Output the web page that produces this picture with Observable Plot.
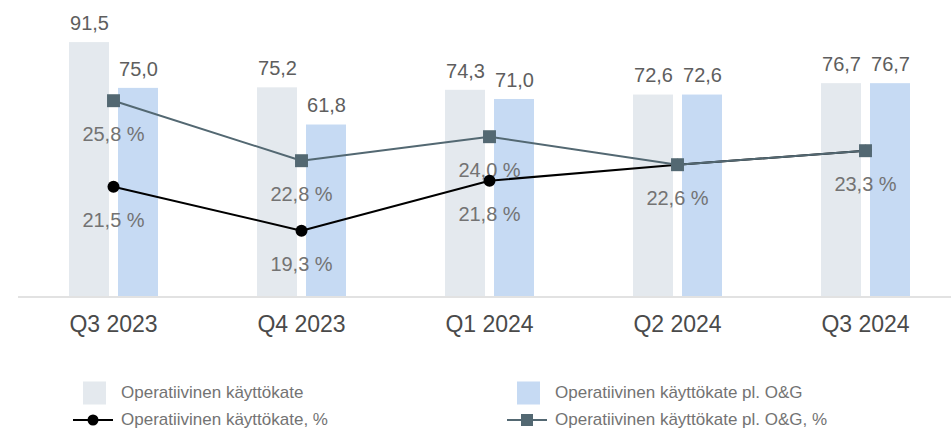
<!DOCTYPE html>
<html>
<head>
<meta charset="utf-8">
<script src="https://cdn.jsdelivr.net/npm/d3@7"></script>
<script src="https://cdn.jsdelivr.net/npm/@observablehq/plot@0.6"></script>
<style>
  body { margin: 0; background: #fff; font-family: "Liberation Sans", Arial, sans-serif; }
  #wrap { position: relative; width: 951px; height: 429px; }
  .leg { position: absolute; display: flex; align-items: center; font-size: 17px; color: #737373; white-space: nowrap; }
  .leg svg { display: block; }
</style>
</head>
<body>
<div id="wrap"><div id="chart"></div></div>
<script>
const quarters = ["Q3 2023", "Q4 2023", "Q1 2024", "Q2 2024", "Q3 2024"];
const ebitda = [91.5, 75.2, 74.3, 72.6, 76.7];
const ebitdaExOG = [75.0, 61.8, 71.0, 72.6, 76.7];
const marginPct = [21.5, 19.3, 21.8, 22.6, 23.3];
const marginPctExOG = [25.8, 22.8, 24.0, 22.6, 23.3];
const seriesNames = [
  "Operatiivinen käyttökate",
  "Operatiivinen käyttökate pl. O&G",
  "Operatiivinen käyttökate, %",
  "Operatiivinen käyttökate pl. O&G, %"
];

const rows = quarters.map((q, i) => ({
  q, a: ebitda[i], b: ebitdaExOG[i], p: marginPct[i], s: marginPctExOG[i]
}));

// secondary (percentage) axis mapped onto the bar axis
const yTop = 106.67;
const pctAxis = d3.scaleLinear().domain([16.01, 30.81]).range([0, yTop]);
const fmt = v => d3.format(".1f")(v).replace(".", ",");

const font = "'Liberation Sans', Arial, sans-serif";
const chart = Plot.plot({
  width: 951,
  height: 350,
  marginTop: 0,
  marginBottom: 54,
  marginLeft: 18,
  marginRight: 0,
  style: { fontFamily: font, fontSize: "23px", color: "#4a4a4a", background: "#fff" },
  x: { domain: quarters, range: [18.5, 958.5], padding: 0, label: null, tickSize: 0, tickPadding: 19 },
  y: { domain: [0, yTop], axis: null },
  marks: [
    Plot.barY(rows, { x: "q", y: "a", fill: "#e4e9ee", insetLeft: 50, insetRight: 98 }),
    Plot.barY(rows, { x: "q", y: "b", fill: "#c6daf3", insetLeft: 99, insetRight: 49 }),
    Plot.ruleY([0], { stroke: "#d9d9d9", strokeWidth: 1.5, dy: 0.5 }),
    Plot.text(rows, { x: "q", y: "a", text: d => fmt(d.a), dx: -24, dy: -19, fontSize: 20, fill: "#5e5e5e" }),
    Plot.text(rows, { x: "q", y: "b", text: d => fmt(d.b), dx: 25, dy: -19, fontSize: 20, fill: "#5e5e5e" }),
    Plot.text(rows, { x: "q", y: d => pctAxis(d.s), text: d => fmt(d.s) + " %", dy: 34, fontSize: 20, fill: "#737373", filter: d => d.s !== d.p }),
    Plot.text(rows, { x: "q", y: d => pctAxis(d.p), text: d => fmt(d.p) + " %", dy: 34, fontSize: 20, fill: "#737373" }),
    Plot.lineY(rows, { x: "q", y: d => pctAxis(d.p), stroke: "#000", strokeWidth: 2 }),
    Plot.dot(rows, { x: "q", y: d => pctAxis(d.p), r: 6, fill: "#000", stroke: "none" }),
    Plot.lineY(rows, { x: "q", y: d => pctAxis(d.s), stroke: "#536872", strokeWidth: 2 }),
    Plot.dot(rows, { x: "q", y: d => pctAxis(d.s), r: 7.3, symbol: "square", fill: "#536872", stroke: "none" })
  ]
});
document.getElementById("chart").appendChild(chart);

// legend below the chart
const wrap = document.getElementById("wrap");
function addLegend(left, top, swatchSvg, label) {
  const d = document.createElement("div");
  d.className = "leg";
  d.style.left = left + "px";
  d.style.top = top + "px";
  d.innerHTML = swatchSvg + `<span style="margin-left:8px">${label}</span>`;
  wrap.appendChild(d);
}
const boxSw = c => `<svg width="40" height="24"><rect x="10" y="0.5" width="23" height="23" fill="${c}"/></svg>`;
const circSw = `<svg width="40" height="24"><line x1="0" x2="40" y1="12" y2="12" stroke="#000" stroke-width="2"/><circle cx="20" cy="12" r="5.5" fill="#000"/></svg>`;
const sqSw = `<svg width="40" height="24"><line x1="0" x2="40" y1="12" y2="12" stroke="#536872" stroke-width="2"/><rect x="14" y="6" width="12" height="12" fill="#536872"/></svg>`;
addLegend(73, 381, boxSw("#e4e9ee"), seriesNames[0]);
addLegend(507, 381, boxSw("#c6daf3"), seriesNames[1]);
addLegend(73, 408, circSw, seriesNames[2]);
addLegend(507, 408, sqSw, seriesNames[3]);
</script>
</body>
</html>
